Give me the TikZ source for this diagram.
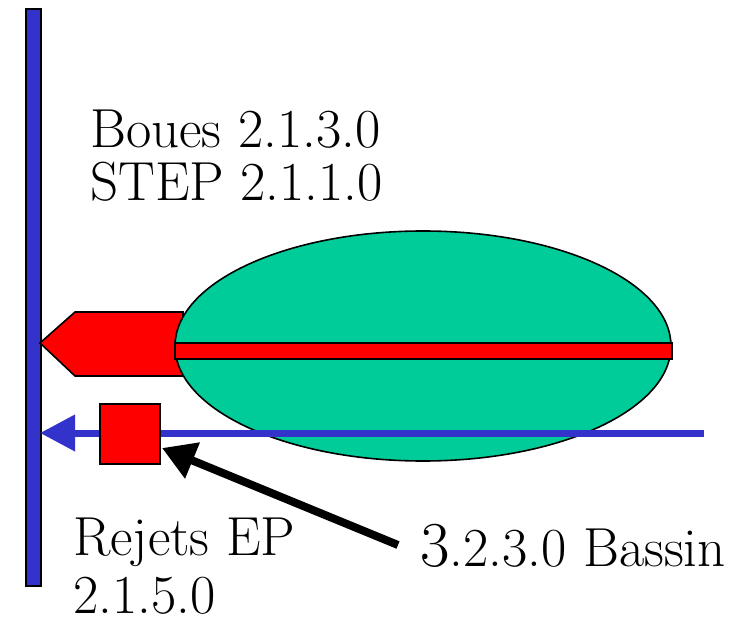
\documentclass[tikz,border=0pt]{standalone}
\usetikzlibrary{arrows.meta,shapes.geometric}
\definecolor{barblue}{HTML}{3333CC}
\definecolor{lagoon}{HTML}{00CC99}
\definecolor{pred}{HTML}{FF0000}
\begin{document}
\begin{tikzpicture}[x=1pt,y=-1pt,
  outl/.style={draw=black,line width=1.6pt},
  lbl/.style={anchor=base west,inner sep=0pt,font=\rmfamily\fontsize{55}{57}\selectfont}]
\useasboundingbox (0,0) rectangle (740,623);
% vertical bar
\node[outl,fill=barblue,minimum width=15pt,minimum height=577pt,inner sep=0pt,anchor=north west] (bar) at (25,8) {};
% red pentagon arrow
\path[outl,fill=pred] (40,343) -- (75,312) -- (183,312) -- (183,376) -- (75,376) -- cycle;
\coordinate (pentip) at (40,343);
% ellipse
\node[outl,fill=lagoon,ellipse,minimum width=496pt,minimum height=230pt,inner sep=0pt] (ell) at (423,346) {};
% red stripe
\node[outl,fill=pred,minimum width=497pt,minimum height=16pt,inner sep=0pt,anchor=north west] (stripe) at (174,342) {};
% blue flow line
\coordinate (flowstart) at (704,433);
\coordinate (flowend) at (40,433);
\draw[barblue,line width=7pt,-{Triangle[length=35pt,width=35pt]}] (flowstart) -- (flowend);
% red square
\node[outl,fill=pred,minimum size=60pt,inner sep=0pt,anchor=north west] (sq) at (99,403) {};
% texts
\node[lbl] (boues) at (90,148) {Boues 2.1.3.0};
\node[lbl] (step) at (90,201) {STEP 2.1.1.0};
\node[lbl] (rejets) at (73,555) {Rejets EP};
\node[lbl] (rejnum) at (73,613) {2.1.5.0};
\node[lbl] (bassin) at (420,566) {{\fontsize{64}{64}\selectfont 3}.2.3.0 Bassin};
% black pointer
\coordinate (tail) at (398,545);
\coordinate (tip) at (162,448);
\draw[black,line width=8pt,-{Triangle[length=33pt,width=37pt]}] (tail) -- (tip);
\end{tikzpicture}
\end{document}
